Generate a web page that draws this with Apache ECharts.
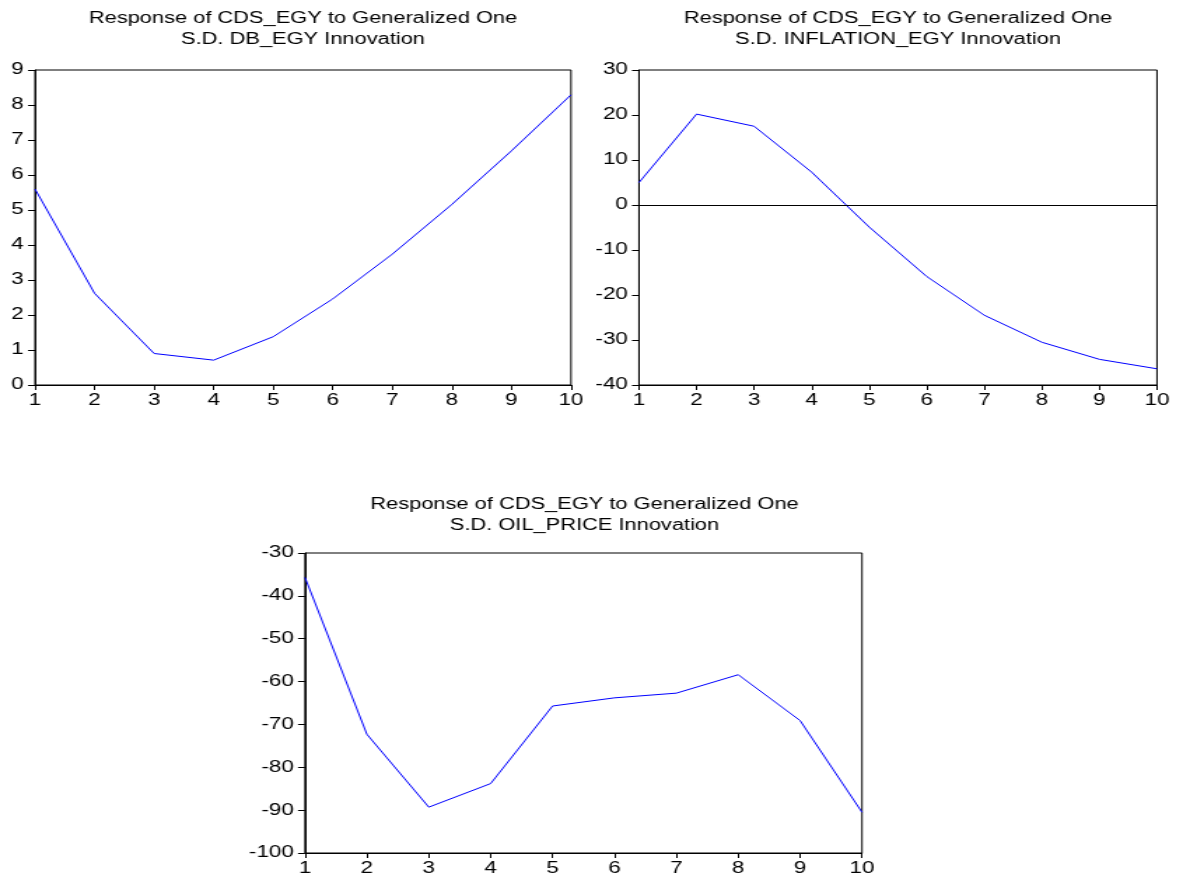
<!DOCTYPE html>
<html>
<head>
<meta charset="utf-8">
<script src="https://cdn.jsdelivr.net/npm/echarts@6/dist/echarts.min.js"></script>
<style>
html,body{margin:0;padding:0;background:#fff;overflow:hidden;width:1177px;height:879px;}
#wrap{position:absolute;left:0;top:0;width:841px;height:879px;transform:scaleX(1.4);transform-origin:0 0;}
#chart{width:841px;height:879px;}
</style>
</head>
<body>
<div id="wrap"><div id="chart"></div></div>
<script>
// Data
const periods = [1, 2, 3, 4, 5, 6, 7, 8, 9, 10];
const dbEgy = [5.6, 2.62, 0.9, 0.71, 1.38, 2.46, 3.74, 5.16, 6.69, 8.29];
const inflationEgy = [5.0, 20.2, 17.5, 7.3, -4.9, -15.9, -24.5, -30.5, -34.3, -36.4];
const oilPrice = [-35.7, -72.3, -89.3, -83.8, -65.7, -63.8, -62.7, -58.4, -69.1, -90.5];
const titles = [
  'Response of CDS_EGY to Generalized One\nS.D. DB_EGY Innovation',
  'Response of CDS_EGY to Generalized One\nS.D. INFLATION_EGY Innovation',
  'Response of CDS_EGY to Generalized One\nS.D. OIL_PRICE Innovation'
];
const yRanges = [[0, 9, 1], [-40, 30, 10], [-100, -30, 10]];

const S = 1.4; // horizontal stretch of the original picture
const font = 'Arial, "Liberation Sans", Helvetica, sans-serif';
const grids = [
  {left: 35 / S, top: 70, width: (571 - 35) / S, height: 315},
  {left: 639 / S, top: 70, width: (1157 - 639) / S, height: 315},
  {left: 305 / S, top: 553, width: (862 - 305) / S, height: 300}
];
const titlePos = [
  {x: 303 / S, y: 8},
  {x: 898 / S, y: 8},
  {x: 584.5 / S, y: 494}
];
const seriesData = [dbEgy, inflationEgy, oilPrice];

const option = {
  animation: false,
  backgroundColor: '#fff',
  title: titles.map((t, i) => ({
    text: t,
    left: titlePos[i].x,
    top: titlePos[i].y,
    textAlign: 'center',
    padding: 0,
    textStyle: {fontFamily: font, fontSize: 15.6, fontWeight: 'normal', color: '#000', lineHeight: 21}
  })),
  grid: grids.map(g => Object.assign({show: true, borderColor: '#000', borderWidth: 1, backgroundColor: 'transparent'}, g)),
  xAxis: grids.map((g, i) => ({
    type: 'value', gridIndex: i, min: 1, max: 10, interval: 1,
    axisLine: {show: true, onZero: false, lineStyle: {color: '#000', width: 1}},
    axisTick: {show: true, length: 5, lineStyle: {color: '#000'}},
    axisLabel: {color: '#000', fontFamily: font, fontSize: 16, margin: 8},
    splitLine: {show: false}
  })),
  yAxis: grids.map((g, i) => ({
    type: 'value', gridIndex: i, min: yRanges[i][0], max: yRanges[i][1], interval: yRanges[i][2],
    axisLine: {show: true, onZero: false, lineStyle: {color: '#000', width: 1}},
    axisTick: {show: true, length: 5, lineStyle: {color: '#000'}},
    axisLabel: {color: '#000', fontFamily: font, fontSize: 16, margin: 8},
    splitLine: {show: false}
  })),
  series: seriesData.map((d, i) => {
    const s = {
      type: 'line', xAxisIndex: i, yAxisIndex: i,
      data: periods.map((p, k) => [p, d[k]]),
      symbol: 'none',
      lineStyle: {color: '#0000FF', width: 1},
      itemStyle: {color: '#0000FF'}
    };
    if (i === 1) {
      s.markLine = {
        silent: true, symbol: 'none', label: {show: false},
        lineStyle: {color: '#000', width: 1, type: 'solid'},
        data: [{yAxis: 0}]
      };
    }
    return s;
  })
};

const chart = echarts.init(document.getElementById('chart'), null, {renderer: 'canvas'});
chart.setOption(option);
</script>
</body>
</html>
